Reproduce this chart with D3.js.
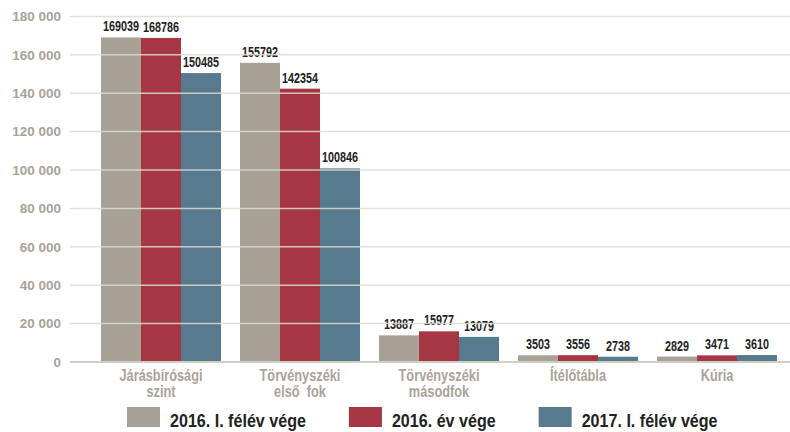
<!DOCTYPE html>
<html>
<head>
<meta charset="utf-8">
<script src="https://d3js.org/d3.v7.min.js"></script>
<style>
  body { margin: 0; background: #fff; }
  svg { display: block; }
</style>
</head>
<body>
<script>
"use strict";

// data
var categories = [["Járásbírósági", "szint"], ["Törvényszéki", "első  fok"], ["Törvényszéki", "másodfok"], ["Ítélőtábla"], ["Kúria"]];
var seriesNames = ["2016. I. félév vége", "2016. év vége", "2017. I. félév vége"];
var seriesColors = ["#a8a196", "#a63643", "#587a8f"];
var values2016H1 = [169039, 155792, 13887, 3503, 2829];
var values2016 = [168786, 142354, 15977, 3556, 3471];
var values2017H1 = [150485, 100846, 13079, 2738, 3610];
var yTicks = [0, 20000, 40000, 60000, 80000, 100000, 120000, 140000, 160000, 180000];

var series = [values2016H1, values2016, values2017H1];

var width = 790, height = 432;
var FONT = "'Liberation Sans', Arial, sans-serif";

var svg = d3.select("body").append("svg")
    .attr("width", width)
    .attr("height", height);

// the original uses a condensed face; squeeze horizontally to the same width
function squeezeFactor(size, sample, target) {
  var t = svg.append("text")
      .style("font-family", FONT).style("font-weight", "bold")
      .style("font-size", size + "px").text(sample);
  var w = t.node().getComputedTextLength();
  t.remove();
  return target / w;
}

var x0 = d3.scaleBand()
    .domain(d3.range(categories.length))
    .range([91.5, 786.5])
    .paddingInner(0.1367)
    .paddingOuter(0.0683);

var x1 = d3.scaleBand()
    .domain(d3.range(series.length))
    .range([0, x0.bandwidth()]);

var y = d3.scaleLinear()
    .domain([0, 180000])
    .range([362, 16.4]);

var fmt = function (d) { return d3.format(",")(d).replace(/,/g, " "); };

// bars
var groups = svg.append("g").selectAll("g")
    .data(categories)
    .join("g")
    .attr("transform", function (d, i) { return "translate(" + x0(i) + ",0)"; });

groups.selectAll("rect")
    .data(function (d, i) { return series.map(function (s, k) { return { k: k, v: s[i] }; }); })
    .join("rect")
    .attr("x", function (d) { return x1(d.k); })
    .attr("y", function (d) { return y(d.v); })
    .attr("width", x1.bandwidth())
    .attr("height", function (d) { return y(0) - y(d.v); })
    .attr("fill", function (d) { return seriesColors[d.k]; });

// y axis labels
var yAxis = d3.axisLeft(y).tickValues(yTicks).tickSize(0).tickPadding(0).tickFormat(fmt);
var ax = svg.append("g")
    .attr("transform", "translate(61,0)")
    .call(yAxis);
ax.select(".domain").remove();
ax.selectAll("text")
    .attr("fill", "#a9a397")
    .style("font-family", FONT)
    .style("font-weight", "bold")
    .style("font-size", "13.5px");

// grid lines drawn over the bars
svg.append("g").selectAll("line")
    .data(yTicks)
    .join("line")
    .attr("x1", 70).attr("x2", width)
    .attr("y1", function (d) { return y(d); })
    .attr("y2", function (d) { return y(d); })
    .attr("stroke", function (d) { return d === 0 ? "#cfcfc3" : "#dcdcd0"; })
    .attr("stroke-opacity", function (d) { return d === 0 ? 1 : 0.85; })
    .attr("stroke-width", function (d) { return d === 0 ? 2 : 1.5; });

// value labels
var fVal = squeezeFactor(14, "169039", 36);
groups.selectAll("text.val")
    .data(function (d, i) { return series.map(function (s, k) { return { k: k, v: s[i] }; }); })
    .join("text")
    .attr("class", "val")
    .attr("transform", function (d) {
      return "translate(" + (x1(d.k) + x1.bandwidth() / 2) + "," + (y(d.v) - 6) + ") scale(" + fVal + ",1)";
    })
    .attr("text-anchor", "middle")
    .attr("fill", "#222")
    .style("font-family", FONT)
    .style("font-weight", "bold")
    .style("font-size", "14px")
    .text(function (d) { return d.v; });

// category labels
var fCat = squeezeFactor(16, "Járásbírósági", 83);
groups.append("text")
    .attr("transform", "translate(" + (x0.bandwidth() / 2) + ",0) scale(" + fCat + ",1)")
    .attr("text-anchor", "middle")
    .attr("fill", "#aaa398")
    .style("font-family", FONT)
    .style("font-weight", "bold")
    .style("font-size", "16px")
    .style("white-space", "pre")
    .selectAll("tspan")
    .data(function (d) { return d; })
    .join("tspan")
    .attr("x", 0)
    .attr("y", function (d, j) { return 381 + j * 16.5; })
    .text(function (d) { return d; });

// legend
var fLeg = squeezeFactor(18, seriesNames[0], 136);
var legend = svg.append("g");
var lx = 127;
seriesNames.forEach(function (name, k) {
  var item = legend.append("g").attr("transform", "translate(" + lx + ",0)");
  item.append("rect")
      .attr("x", 0).attr("y", 407)
      .attr("width", 33).attr("height", 20)
      .attr("fill", seriesColors[k]);
  var t = item.append("text")
      .attr("transform", "translate(43,427) scale(" + fLeg + ",1)")
      .attr("fill", "#222")
      .style("font-family", FONT)
      .style("font-weight", "bold")
      .style("font-size", "18px")
      .text(name);
  var w = t.node().getComputedTextLength() * fLeg;
  lx += 43 + w + 43;
});
</script>
</body>
</html>
